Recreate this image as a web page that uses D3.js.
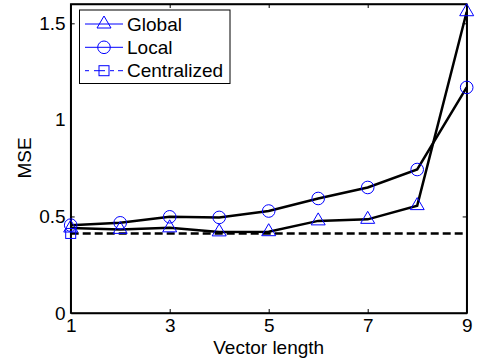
<!DOCTYPE html>
<html>
<head>
<meta charset="utf-8">
<script src="https://cdn.jsdelivr.net/npm/d3@7"></script>
<style>
  body { margin: 0; background: #fff; }
  text { font-family: "Liberation Sans", Arial, sans-serif; fill: #000; }
</style>
</head>
<body>
<div id="chart"></div>
<script>
// data
var vectorLength = [1, 2, 3, 4, 5, 6, 7, 8, 9];
var globalMse = [0.440, 0.433, 0.441, 0.420, 0.421, 0.477, 0.485, 0.556, 1.56];
var localMse = [0.455, 0.467, 0.498, 0.495, 0.528, 0.593, 0.650, 0.743, 1.168];
var centralizedMse = 0.412;
var xTicks = [1, 3, 5, 7, 9];
var yTicks = [0, 0.5, 1, 1.5];
var legendNames = ["Global", "Local", "Centralized"];

var width = 478, height = 362;
var plotLeft = 70.7, plotRight = 466.7, plotTop = 4, plotBottom = 313;
var blue = "#0000ff";

var svg = d3.select("#chart").append("svg")
    .attr("width", width)
    .attr("height", height);

var x = d3.scaleLinear().domain([1, 9]).range([plotLeft, plotRight]);
var y = d3.scaleLinear().domain([0, 1.6]).range([plotBottom, plotTop]);

// axes (ticks pointing inward, box all round)
var fs = "19px";
svg.append("g")
    .attr("transform", `translate(0,${plotBottom})`)
    .call(d3.axisBottom(x).tickValues(xTicks).tickFormat(d3.format("d")).tickSizeInner(-4).tickSizeOuter(0).tickPadding(6))
    .call(g => g.selectAll("text").style("font-size", fs).attr("y", 3).attr("dy", "0.85em"));
svg.append("g")
    .attr("transform", `translate(0,${plotTop})`)
    .call(d3.axisTop(x).tickValues(xTicks).tickFormat("").tickSizeInner(-4).tickSizeOuter(0));
svg.append("g")
    .attr("transform", `translate(${plotLeft},0)`)
    .call(d3.axisLeft(y).tickValues(yTicks).tickFormat(d => d).tickSizeInner(-4).tickSizeOuter(0).tickPadding(6))
    .call(g => g.selectAll("text").style("font-size", fs).attr("x", -5));
svg.append("g")
    .attr("transform", `translate(${plotRight},0)`)
    .call(d3.axisRight(y).tickValues(yTicks).tickFormat("").tickSizeInner(-4).tickSizeOuter(0));

svg.selectAll(".domain").attr("stroke", "#000").attr("stroke-width", 1.5);
svg.selectAll(".tick line").attr("stroke", "#000");
svg.selectAll(".tick text").attr("fill", "#000");
// hide ticks sitting on the box edges
svg.selectAll(".tick").filter(d => d === 1 || d === 9 || d === 0).select("line").remove();

svg.append("rect")
    .attr("x", plotLeft).attr("y", plotTop)
    .attr("width", plotRight - plotLeft).attr("height", plotBottom - plotTop)
    .attr("fill", "none").attr("stroke", "#000").attr("stroke-width", 1.5);

// labels
svg.append("text")
    .attr("x", (plotLeft + plotRight) / 2).attr("y", 354)
    .attr("text-anchor", "middle")
    .style("font-size", fs)
    .text("Vector length");
svg.append("text")
    .attr("transform", `translate(31,158)rotate(-90)`)
    .attr("text-anchor", "middle")
    .style("font-size", fs)
    .text("MSE");

// lines
var line = d3.line().x((d, i) => x(vectorLength[i])).y(d => y(d));
svg.append("line")
    .attr("x1", x(1)).attr("x2", x(9))
    .attr("y1", y(centralizedMse)).attr("y2", y(centralizedMse))
    .attr("stroke", "#000").attr("stroke-width", 2.5)
    .attr("stroke-dasharray", "8,4");
svg.append("path").datum(globalMse)
    .attr("d", line).attr("fill", "none")
    .attr("stroke", "#000").attr("stroke-width", 2.5);
svg.append("path").datum(localMse)
    .attr("d", line).attr("fill", "none")
    .attr("stroke", "#000").attr("stroke-width", 2.5);

// markers
var tri = "M0,-8L7,4L-7,4Z";
svg.selectAll(".tri").data(globalMse).enter().append("path")
    .attr("class", "tri")
    .attr("transform", (d, i) => `translate(${x(vectorLength[i])},${y(d)})`)
    .attr("d", tri)
    .attr("fill", "none").attr("stroke", blue).attr("stroke-width", 1);
svg.selectAll(".circ").data(localMse).enter().append("circle")
    .attr("class", "circ")
    .attr("cx", (d, i) => x(vectorLength[i]))
    .attr("cy", d => y(d))
    .attr("r", 6.3)
    .attr("fill", "none").attr("stroke", blue).attr("stroke-width", 1);
svg.append("rect")
    .attr("x", x(1) - 5).attr("y", y(centralizedMse) - 5)
    .attr("width", 10).attr("height", 10)
    .attr("fill", "none").attr("stroke", blue).attr("stroke-width", 1);

// legend
var legend = svg.append("g");
legend.append("rect")
    .attr("x", 79.5).attr("y", 10)
    .attr("width", 150.5).attr("height", 73.5)
    .attr("fill", "#fff").attr("stroke", "#000").attr("stroke-width", 1);

var rowY = [24, 47.3, 70.7];
legendNames.forEach(function(name, i) {
    var g = legend.append("g").attr("transform", `translate(0,${rowY[i]})`);
    g.append("line")
        .attr("x1", 85).attr("x2", 123)
        .attr("stroke", blue).attr("stroke-width", 1)
        .attr("stroke-dasharray", i === 2 ? "4,5,11,5,4" : null);
    if (i === 0) {
        g.append("path").attr("transform", "translate(104,0)").attr("d", tri)
            .attr("fill", "none").attr("stroke", blue);
    } else if (i === 1) {
        g.append("circle").attr("cx", 104).attr("r", 6.3)
            .attr("fill", "none").attr("stroke", blue);
    } else {
        g.append("rect").attr("x", 99).attr("y", -5).attr("width", 10).attr("height", 10)
            .attr("fill", "none").attr("stroke", blue);
    }
    g.append("text")
        .attr("x", 127).attr("dy", "0.35em")
        .style("font-size", fs)
        .text(name);
});
</script>
</body>
</html>
